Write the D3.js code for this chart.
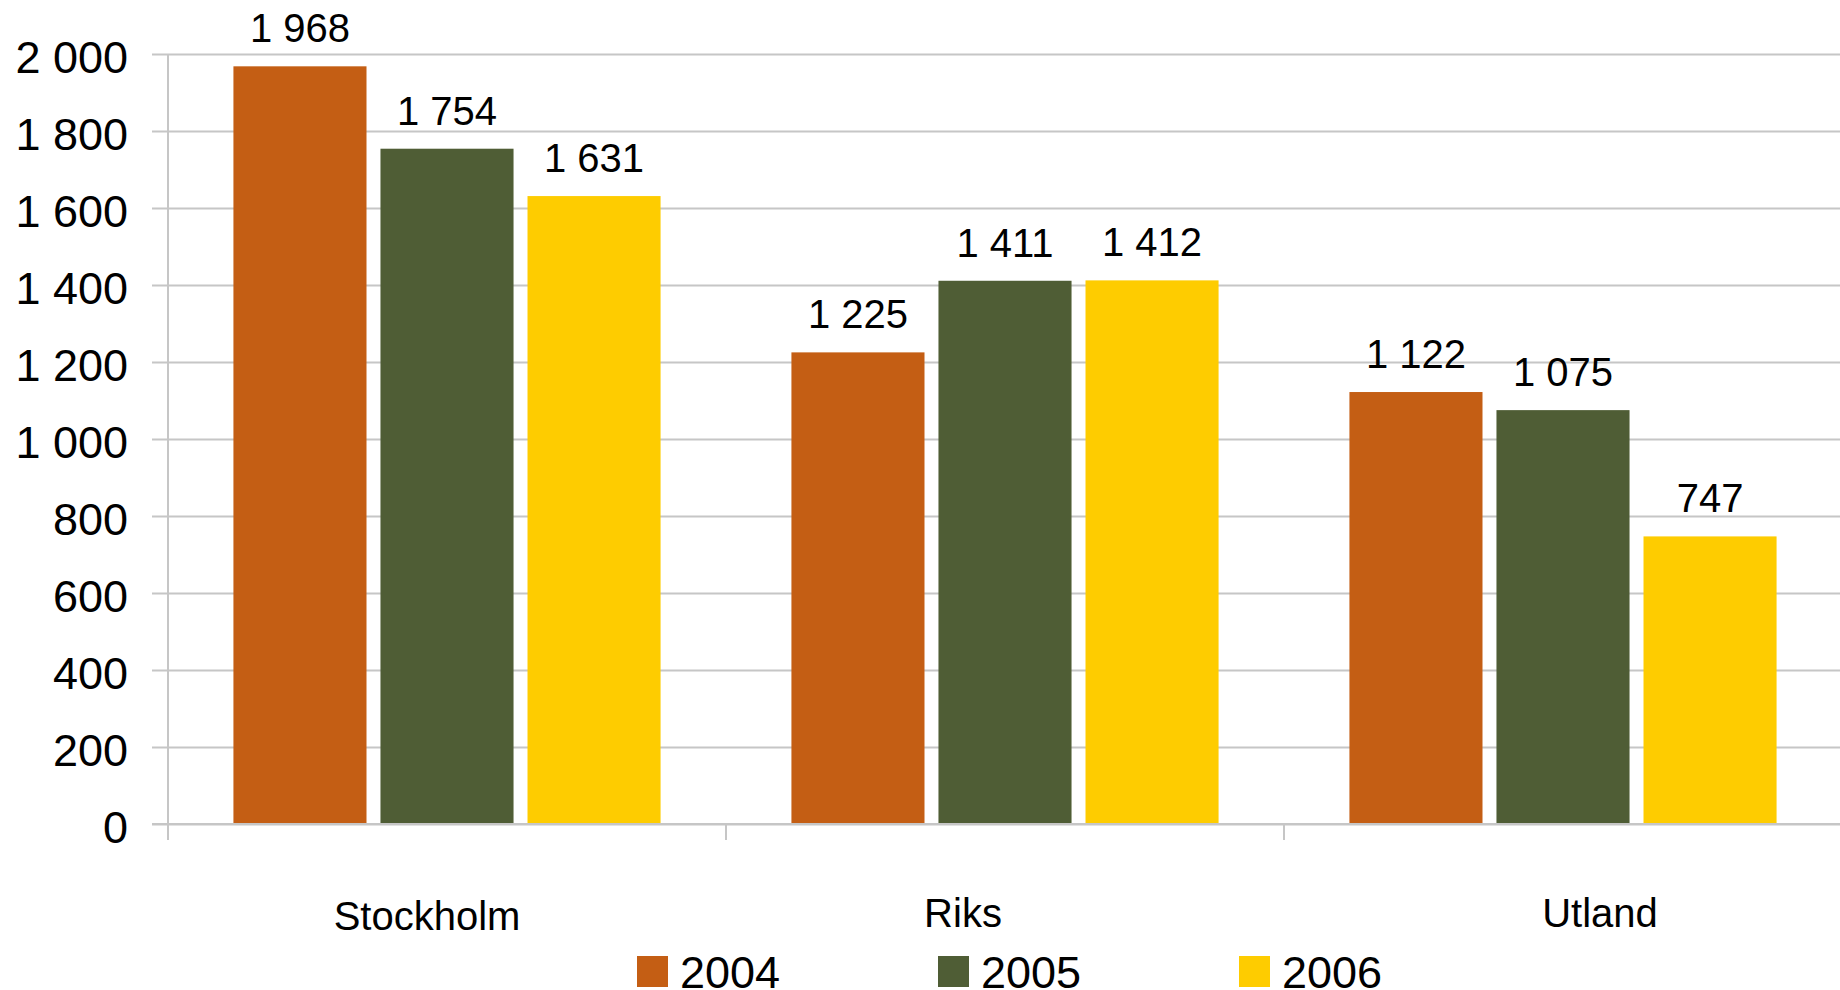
<!DOCTYPE html>
<html>
<head>
<meta charset="utf-8">
<script src="https://cdn.jsdelivr.net/npm/d3@7"></script>
<style>
  html, body { margin: 0; padding: 0; background: #fff; }
  text { font-family: "Liberation Sans", Arial, sans-serif; fill: #000; }
</style>
</head>
<body>
<div id="chart"></div>
<script>
// data
const categories = ["Stockholm", "Riks", "Utland"];
const years = ["2004", "2005", "2006"];
const values2004 = [1968, 1225, 1122];
const values2005 = [1754, 1411, 1075];
const values2006 = [1631, 1412, 747];
const yTicks = [0, 200, 400, 600, 800, 1000, 1200, 1400, 1600, 1800, 2000];

const seriesValues = [values2004, values2005, values2006];
const colors = ["#c45e14", "#4f5d35", "#fecc00"];

// category label nudges (Excel placed them a bit off centre)
const labelShift = [[-20, 3], [-42, 0], [37, 0]];

const W = 1840, H = 990;
const plotLeft = 168, plotRight = 1842, plotTop = 54, plotBottom = 824;

const svg = d3.select("#chart").append("svg")
  .attr("width", W)
  .attr("height", H);

const fmt = d3.formatLocale({decimal: ",", thousands: " ", grouping: [3], currency: ["", ""]}).format(",d");

const y = d3.scaleLinear().domain([0, 2000]).range([plotBottom, plotTop]);

const x0 = d3.scaleBand()
  .domain(categories)
  .range([plotLeft, plotRight])
  .padding(0);

const x1 = d3.scaleBand()
  .domain(years)
  .range([0, x0.bandwidth()])
  .paddingInner(0.095)
  .paddingOuter(0.445);

// gridlines + y labels
const yAxis = svg.append("g")
  .attr("transform", `translate(${W},0)`)
  .call(d3.axisLeft(y).tickValues(yTicks).tickSize(W - 152).tickPadding(24).tickFormat(fmt));
yAxis.select(".domain").remove();
yAxis.selectAll(".tick line").attr("stroke", "#c6c6c6").attr("stroke-width", 2);
yAxis.selectAll(".tick text")
  .style("font-size", "45px")
  .attr("dy", "0.41em")
  .attr("fill", "#000");

// vertical axis line
svg.append("line")
  .attr("x1", plotLeft).attr("x2", plotLeft)
  .attr("y1", plotTop).attr("y2", plotBottom + 16)
  .attr("stroke", "#c6c6c6").attr("stroke-width", 2);

// bars
const rows = [];
categories.forEach((c, i) => {
  years.forEach((yr, j) => rows.push({cat: c, year: yr, value: seriesValues[j][i], color: colors[j]}));
});

svg.append("g").selectAll("rect")
  .data(rows)
  .join("rect")
  .attr("x", d => x0(d.cat) + x1(d.year))
  .attr("y", d => y(d.value))
  .attr("width", x1.bandwidth())
  .attr("height", d => y(0) - y(d.value))
  .attr("fill", d => d.color);

// value labels
svg.append("g").selectAll("text")
  .data(rows)
  .join("text")
  .attr("x", d => x0(d.cat) + x1(d.year) + x1.bandwidth() / 2)
  .attr("y", d => y(d.value) - 24)
  .attr("text-anchor", "middle")
  .style("font-size", "40px")
  .text(d => fmt(d.value));

// x axis baseline and category ticks
svg.append("line")
  .attr("x1", 152).attr("x2", W)
  .attr("y1", y(0)).attr("y2", y(0))
  .attr("stroke", "#c6c6c6").attr("stroke-width", 2);

svg.append("g").selectAll("line")
  .data(categories)
  .join("line")
  .attr("x1", d => x0(d)).attr("x2", d => x0(d))
  .attr("y1", y(0)).attr("y2", y(0) + 16)
  .attr("stroke", "#c6c6c6").attr("stroke-width", 2);

svg.append("g").selectAll("text")
  .data(categories)
  .join("text")
  .attr("x", (d, i) => x0(d) + x0.bandwidth() / 2 + labelShift[i][0])
  .attr("y", (d, i) => 927 + labelShift[i][1])
  .attr("text-anchor", "middle")
  .style("font-size", "40px")
  .text(d => d);

// legend
const legend = svg.append("g").selectAll("g")
  .data(years)
  .join("g")
  .attr("transform", (d, i) => `translate(${637 + i * 301},956)`);

legend.append("rect")
  .attr("width", 31).attr("height", 31)
  .attr("fill", (d, i) => colors[i]);

legend.append("text")
  .attr("x", 43)
  .attr("y", 32)
  .style("font-size", "45px")
  .text(d => d);
</script>
</body>
</html>
